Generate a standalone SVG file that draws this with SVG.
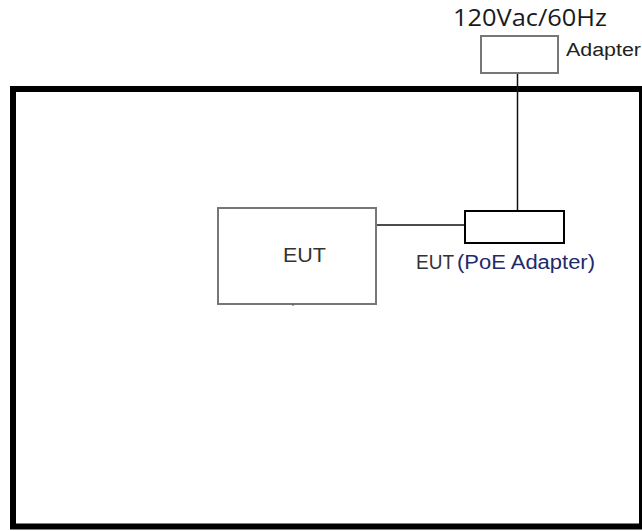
<svg xmlns="http://www.w3.org/2000/svg" width="642" height="531" viewBox="0 0 642 531">
<style>
.t{font-family:"Liberation Sans",Arial,sans-serif;}
.box{fill:#fff;stroke:#777;stroke-width:2;}
.wire{stroke:#111;stroke-width:1.5;fill:none;}
</style>
<rect width="642" height="531" fill="#fff"/>
<g id="enclosure"><rect x="13" y="89" width="629" height="437.5" fill="none" stroke="#000" stroke-width="6"/></g>
<g id="connectors">
<line class="wire" x1="517.5" y1="73" x2="517.5" y2="211"/>
<line class="wire" x1="376" y1="225" x2="465" y2="225"/>
</g>
<g id="power">
<text x="453" y="26" font-family="'Open Sans',sans-serif" font-size="23" fill="#1a1a1a" textLength="154" lengthAdjust="spacingAndGlyphs">120Vac/60Hz</text>
</g>
<g id="adapter">
<rect class="box" x="481" y="36" width="77" height="37"/>
<text class="t" x="566" y="56" font-size="18" fill="#222" textLength="75" lengthAdjust="spacingAndGlyphs">Adapter</text>
</g>
<g id="eut">
<rect class="box" x="218" y="208" width="158" height="96"/>
<line x1="293" y1="304" x2="293" y2="306" stroke="#555" stroke-width="1"/>
<text class="t" x="283" y="262" font-size="20" fill="#333" textLength="43" lengthAdjust="spacingAndGlyphs">EUT</text>
</g>
<g id="poe">
<rect x="465" y="211" width="99" height="32" fill="#fff" stroke="#000" stroke-width="2"/>
<text class="t" x="416" y="269" font-size="20" fill="#333" textLength="38" lengthAdjust="spacingAndGlyphs">EUT</text>
<text class="t" x="457" y="269" font-size="20" fill="#1f2a6b" textLength="138" lengthAdjust="spacingAndGlyphs">(PoE Adapter)</text>
</g>
</svg>
